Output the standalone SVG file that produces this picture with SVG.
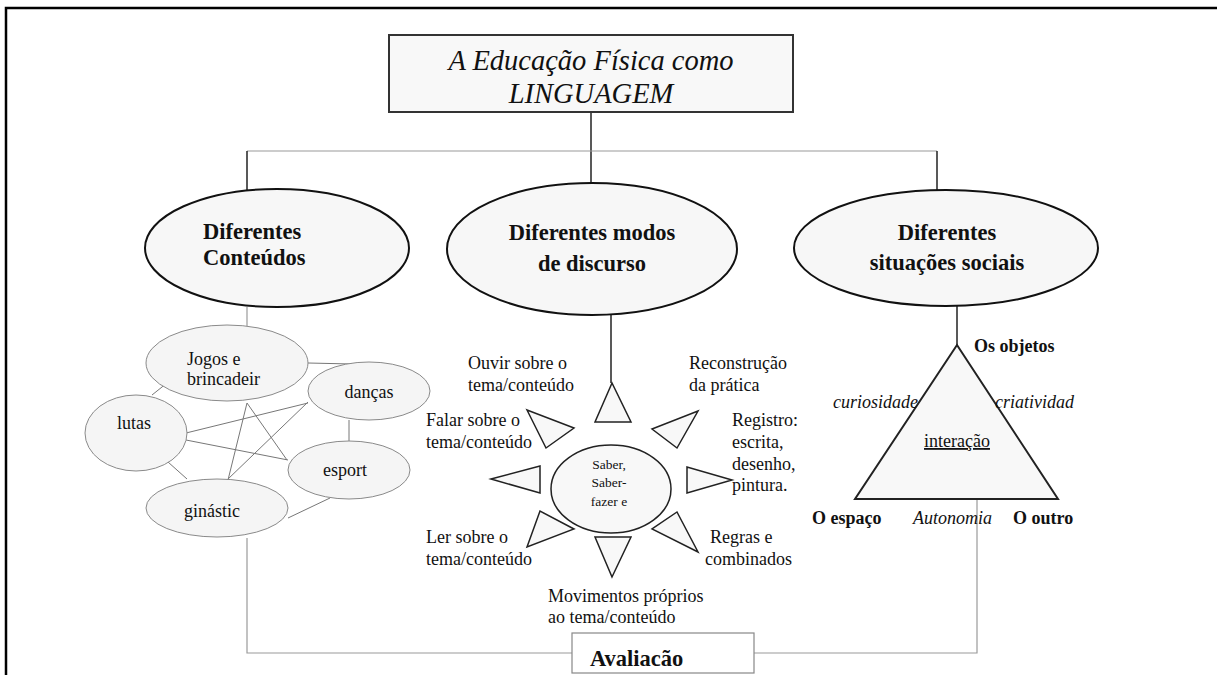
<svg xmlns="http://www.w3.org/2000/svg" width="1217" height="675" viewBox="0 0 1217 675" font-family="'Liberation Serif', 'DejaVu Serif', 'Times New Roman', serif">
<style>
text{font-family:"Liberation Serif","DejaVu Serif","Times New Roman",serif;fill:#111}
.t18{font-size:18px}
.b{font-weight:bold}
.i{font-style:italic}
.main{fill:#f7f7f7;stroke:#111;stroke-width:2}
.sub{fill:#f5f5f5;stroke:#8a8a8a;stroke-width:1}
.tri{fill:#f8f8f8;stroke:#222;stroke-width:1.5}
.dk{stroke:#222;stroke-width:1.5;fill:none}
.gr{stroke:#9a9a9a;stroke-width:1.2;fill:none}
.cl{stroke:#777;stroke-width:1;fill:none}
</style>
<rect width="1217" height="675" fill="#fff"/>
<path d="M6,675 V8 H1217" fill="none" stroke="#000" stroke-width="2.5"/>

<g id="connectors">
<path class="dk" d="M591,112 V183"/>
<path class="gr" d="M247,151 H937"/>
<path class="dk" d="M247,151 V192"/>
<path class="dk" d="M937,151 V190"/>
<path class="dk" d="M611,315 V383"/>
<path class="dk" d="M957,306 V345"/>
<path class="gr" d="M247,307 V326"/>
<path class="gr" d="M247,538 V653 H572"/>
<path class="gr" d="M754,653 H977 V495"/>
<path class="cl" d="M167,383 L152,395"/>
<path class="cl" d="M308,363 L352,364"/>
<path class="cl" d="M186,433 L308,403"/>
<path class="cl" d="M186,440 L288,460"/>
<path class="cl" d="M168,462 L187,479"/>
<path class="cl" d="M247,403 L287,460"/>
<path class="cl" d="M247,403 L228,480"/>
<path class="cl" d="M308,402 L227,480"/>
<path class="cl" d="M349,420 V441"/>
<path class="cl" d="M330,498 L288,518"/>
</g>

<g id="title">
<rect x="389" y="35" width="404" height="77" fill="#f8f8f8" stroke="#333" stroke-width="2"/>
<text x="591" y="70" text-anchor="middle" class="i" font-size="28.5">A Educação Física como</text>
<text x="591" y="103" text-anchor="middle" class="i" font-size="28.5">LINGUAGEM</text>
</g>

<g id="conteudos">
<ellipse class="main" cx="277" cy="248" rx="132" ry="59"/>
<text x="203" y="239" class="b" font-size="22.5">Diferentes</text>
<text x="203" y="265" class="b" font-size="22.5">Conteúdos</text>
</g>

<g id="discurso">
<ellipse class="main" cx="592" cy="249" rx="145" ry="66"/>
<text x="592" y="240" text-anchor="middle" class="b" font-size="22.5">Diferentes modos</text>
<text x="592" y="271" text-anchor="middle" class="b" font-size="22.5">de discurso</text>
</g>

<g id="situacoes">
<ellipse class="main" cx="946" cy="248" rx="152" ry="58"/>
<text x="947" y="240" text-anchor="middle" class="b" font-size="22.5">Diferentes</text>
<text x="947" y="270" text-anchor="middle" class="b" font-size="22.5">situações sociais</text>
</g>

<g id="jogos">
<ellipse class="sub" cx="227" cy="363" rx="81" ry="38"/>
<text x="187" y="365" class="t18">Jogos e</text>
<text x="187" y="385" class="t18">brincadeir</text>
</g>
<g id="dancas">
<ellipse class="sub" cx="369" cy="391" rx="61" ry="29"/>
<text x="369" y="398" text-anchor="middle" class="t18">danças</text>
</g>
<g id="lutas">
<ellipse class="sub" cx="136" cy="433" rx="51" ry="38"/>
<text x="117" y="429" class="t18">lutas</text>
</g>
<g id="esport">
<ellipse class="sub" cx="349" cy="470" rx="61" ry="29"/>
<text x="345" y="476" text-anchor="middle" class="t18">esport</text>
</g>
<g id="ginastic">
<ellipse class="sub" cx="217" cy="508" rx="71" ry="29"/>
<text x="212" y="517" text-anchor="middle" class="t18">ginástic</text>
</g>

<g id="sun">
<ellipse cx="611" cy="489" rx="60" ry="44" fill="#f8f8f8" stroke="#222" stroke-width="1.5"/>
<text x="609" y="469" text-anchor="middle" font-size="13.5">Saber,</text>
<text x="609" y="487" text-anchor="middle" font-size="13.5">Saber-</text>
<text x="609" y="506" text-anchor="middle" font-size="13.5">fazer e</text>
<polygon class="tri" points="612,383 595,422 631,422"/>
<polygon class="tri" points="698,411 652,429 677,448"/>
<polygon class="tri" points="732,480 687,467 687,493"/>
<polygon class="tri" points="698,552 652,529 677,512"/>
<polygon class="tri" points="612,577 595,537 631,537"/>
<polygon class="tri" points="527,547 540,511 574,529"/>
<polygon class="tri" points="491,479 540,466 540,493"/>
<polygon class="tri" points="527,410 574,428 546,448"/>
</g>

<g id="labels-discurso" class="t18">
<text x="468" y="369">Ouvir sobre o</text>
<text x="468" y="391">tema/conteúdo</text>
<text x="689" y="369">Reconstrução</text>
<text x="689" y="391">da prática</text>
<text x="426" y="426">Falar sobre o</text>
<text x="426" y="448">tema/conteúdo</text>
<text x="732" y="426">Registro:</text>
<text x="732" y="448">escrita,</text>
<text x="732" y="470">desenho,</text>
<text x="732" y="491">pintura.</text>
<text x="426" y="543">Ler sobre o</text>
<text x="426" y="565">tema/conteúdo</text>
<text x="710" y="543">Regras e</text>
<text x="705" y="565">combinados</text>
<text x="548" y="602">Movimentos próprios</text>
<text x="548" y="623">ao tema/conteúdo</text>
</g>

<g id="triangulo">
<polygon points="957,345 855,499 1058,499" fill="#f8f8f8" stroke="#222" stroke-width="2"/>
<text x="974" y="352" class="t18 b">Os objetos</text>
<text x="833" y="408" class="t18 i">curiosidade</text>
<text x="995" y="408" class="t18 i">criatividad</text>
<text x="957" y="447" text-anchor="middle" class="t18" text-decoration="underline">interação</text>
<text x="812" y="524" class="t18 b">O espaço</text>
<text x="913" y="524" class="t18 i">Autonomia</text>
<text x="1013" y="524" class="t18 b">O outro</text>
</g>

<g id="avaliacao">
<rect x="572" y="633" width="182" height="40" fill="#fff" stroke="#888" stroke-width="1.2"/>
<text x="590" y="666" class="b" font-size="22.5">Avaliacão</text>
</g>
</svg>
